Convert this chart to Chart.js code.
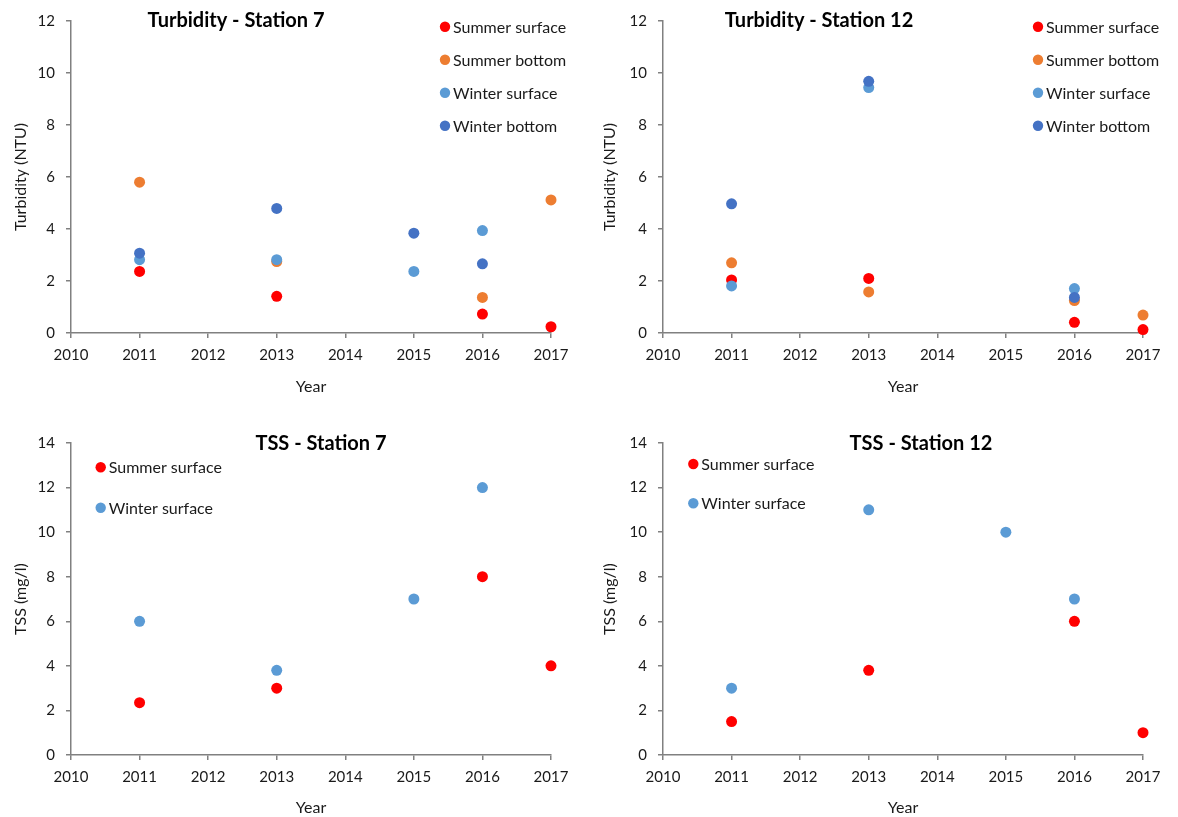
<!DOCTYPE html>
<html>
<head>
<meta charset="utf-8">
<script src="https://cdn.jsdelivr.net/npm/chart.js@4.4.1/dist/chart.umd.min.js"></script>
<style>
  html, body { margin: 0; padding: 0; background: #fff; }
  #wrap { position: relative; width: 1178px; height: 817px; }
  #wrap canvas { position: absolute; }
</style>
</head>
<body>
<div id="wrap">
  <canvas id="turb7" width="589" height="408" style="left:0;top:0"></canvas>
  <canvas id="turb12" width="589" height="408" style="left:589px;top:0"></canvas>
  <canvas id="tss7" width="589" height="408" style="left:0;top:409px"></canvas>
  <canvas id="tss12" width="589" height="408" style="left:589px;top:409px"></canvas>
</div>
<script>
// years sampled, and x axis ticks
const years = [2011, 2013, 2015, 2016, 2017];
const yearTicks = [2010, 2011, 2012, 2013, 2014, 2015, 2016, 2017];

// Turbidity (NTU) - station 7
const turb7SummerSurface = [2.37, 1.41, null, 0.73, 0.24];
const turb7SummerBottom  = [5.80, 2.75, null, 1.37, 5.12];
const turb7WinterSurface = [2.82, 2.82, 2.37, 3.94, null];
const turb7WinterBottom  = [3.07, 4.79, 3.84, 2.66, null];

// Turbidity (NTU) - station 12
const turb12SummerSurface = [2.04, 2.10, null, 0.41, 0.13];
const turb12SummerBottom  = [2.70, 1.58, null, 1.25, 0.69];
const turb12WinterSurface = [1.81, 9.44, null, 1.71, null];
const turb12WinterBottom  = [4.97, 9.68, null, 1.37, null];

// TSS (mg/l)
const tss7SummerSurface  = [2.35, 3.0, null, 8.0, 4.0];
const tss7WinterSurface  = [6.0, 3.8, 7.0, 12.0, null];
const tss12SummerSurface = [1.5, 3.8, null, 6.0, 1.0];
const tss12WinterSurface = [3.0, 11.0, 10.0, 7.0, null];

const RED = '#ff0000', ORANGE = '#ed7d31', LIGHTBLUE = '#5b9bd5', DARKBLUE = '#4472c4';
const FONT = 'Lato, "Open Sans", sans-serif';
const AXIS = '#808080';

function points(vals) {
    const out = [];
    vals.forEach((v, i) => { if (v !== null) out.push({ x: years[i], y: v }); });
    return out;
}

// title drawn at a fixed spot like the original
const panelTitle = {
    id: 'panelTitle',
    afterDraw(chart, args, opts) {
        const ctx = chart.ctx;
        ctx.save();
        ctx.font = 'bold 20px ' + FONT;
        ctx.fillStyle = '#000';
        ctx.textAlign = 'center';
        ctx.textBaseline = 'middle';
        ctx.fillText(opts.text, opts.x, opts.y);
        ctx.restore();
    }
};

// legend inside the plot area
const pointLegend = {
    id: 'pointLegend',
    afterDraw(chart, args, opts) {
        const ctx = chart.ctx;
        ctx.save();
        ctx.font = '16px ' + FONT;
        ctx.textAlign = 'left';
        ctx.textBaseline = 'middle';
        chart.data.datasets.forEach((ds, i) => {
            const y = opts.y + i * opts.gap;
            ctx.beginPath();
            ctx.arc(opts.x, y, 5.2, 0, Math.PI * 2);
            ctx.fillStyle = ds.backgroundColor;
            ctx.fill();
            ctx.fillStyle = '#1a1a1a';
            ctx.fillText(ds.label, opts.x + 8, y + 1);
        });
        ctx.restore();
    }
};

function makeChart(id, area, yMax, yTitle, xTitlePad, title, legend, series) {
    const canvas = document.getElementById(id);
    const W = canvas.width, H = canvas.height;
    const n = series.length;
    return new Chart(canvas.getContext('2d'), {
        type: 'scatter',
        data: {
            datasets: series.map((s, i) => ({
                label: s.label,
                data: points(s.values),
                backgroundColor: s.color,
                borderColor: s.color,
                borderWidth: 0,
                pointRadius: 5.5,
                pointHoverRadius: 5.5,
                clip: false,
                order: n - i
            }))
        },
        options: {
            responsive: false,
            animation: false,
            events: [],
            layout: { padding: { left: 0, top: area.top, right: W - area.right, bottom: 0 } },
            plugins: {
                legend: { display: false },
                tooltip: { enabled: false },
                panelTitle: title,
                pointLegend: legend
            },
            scales: {
                x: {
                    type: 'linear',
                    min: 2010,
                    max: 2017,
                    afterFit: s => { s.height = H - area.bottom; },
                    afterBuildTicks: s => { s.ticks = yearTicks.map(v => ({ value: v })); },
                    grid: { drawOnChartArea: false, drawTicks: true, tickLength: 5, color: AXIS, lineWidth: 1.5 },
                    border: { color: AXIS, width: 1.5 },
                    ticks: { padding: 8, color: '#1a1a1a', font: { family: FONT, size: 15 }, callback: v => String(v) },
                    title: { display: true, text: 'Year', color: '#1a1a1a', font: { family: FONT, size: 16 }, padding: { top: 0, bottom: xTitlePad } }
                },
                y: {
                    min: 0,
                    max: yMax,
                    afterFit: s => { s.width = area.left; },
                    grid: { drawOnChartArea: false, drawTicks: true, tickLength: 5, color: AXIS, lineWidth: 1.5 },
                    border: { color: AXIS, width: 1.5 },
                    ticks: { stepSize: 2, padding: 11, color: '#1a1a1a', font: { family: FONT, size: 15 } },
                    title: { display: true, text: yTitle, color: '#1a1a1a', font: { family: FONT, size: 16 }, padding: { top: 11, bottom: 0 } }
                }
            }
        },
        plugins: [panelTitle, pointLegend]
    });
}

makeChart('turb7', { left: 71, right: 551, top: 21, bottom: 333 }, 12, 'Turbidity (NTU)', 12,
    { text: 'Turbidity - Station 7', x: 236, y: 21 },
    { x: 445, y: 26.7, gap: 33 },
    [
        { label: 'Summer surface', values: turb7SummerSurface, color: RED },
        { label: 'Summer bottom', values: turb7SummerBottom, color: ORANGE },
        { label: 'Winter surface', values: turb7WinterSurface, color: LIGHTBLUE },
        { label: 'Winter bottom', values: turb7WinterBottom, color: DARKBLUE }
    ]);

makeChart('turb12', { left: 74, right: 554, top: 21, bottom: 333 }, 12, 'Turbidity (NTU)', 12,
    { text: 'Turbidity - Station 12', x: 230, y: 21 },
    { x: 449, y: 26.7, gap: 33 },
    [
        { label: 'Summer surface', values: turb12SummerSurface, color: RED },
        { label: 'Summer bottom', values: turb12SummerBottom, color: ORANGE },
        { label: 'Winter surface', values: turb12WinterSurface, color: LIGHTBLUE },
        { label: 'Winter bottom', values: turb12WinterBottom, color: DARKBLUE }
    ]);

makeChart('tss7', { left: 71, right: 551, top: 34, bottom: 346 }, 14, 'TSS (mg/l)', 0,
    { text: 'TSS - Station 7', x: 321, y: 35 },
    { x: 100.7, y: 58.3, gap: 40.4 },
    [
        { label: 'Summer surface', values: tss7SummerSurface, color: RED },
        { label: 'Winter surface', values: tss7WinterSurface, color: LIGHTBLUE }
    ]);

makeChart('tss12', { left: 74, right: 554, top: 34, bottom: 346 }, 14, 'TSS (mg/l)', 0,
    { text: 'TSS - Station 12', x: 332, y: 35 },
    { x: 104.3, y: 55, gap: 39.3 },
    [
        { label: 'Summer surface', values: tss12SummerSurface, color: RED },
        { label: 'Winter surface', values: tss12WinterSurface, color: LIGHTBLUE }
    ]);
</script>
</body>
</html>
